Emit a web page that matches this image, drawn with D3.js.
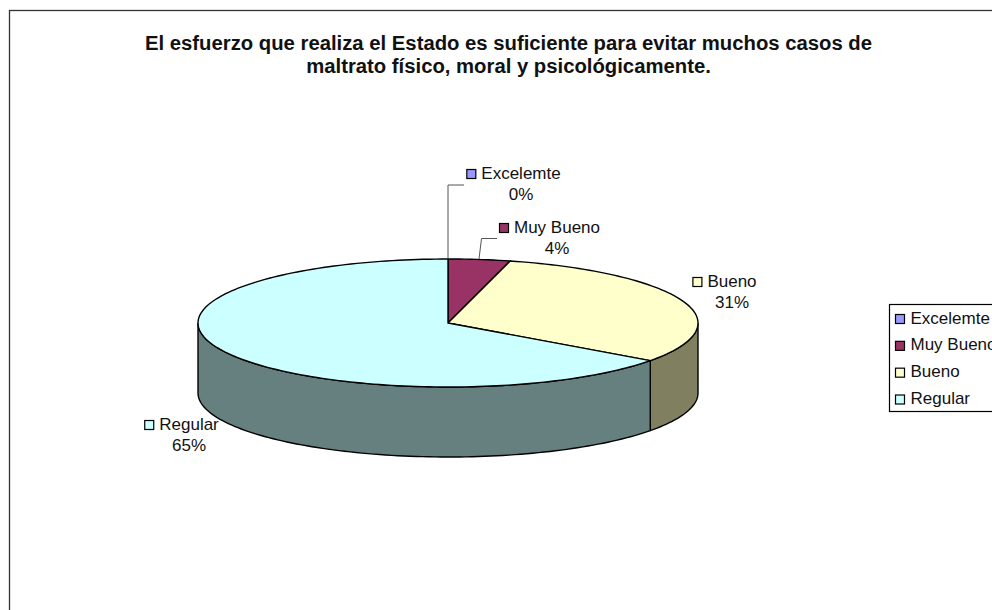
<!DOCTYPE html>
<html>
<head>
<meta charset="utf-8">
<script src="https://cdn.jsdelivr.net/npm/d3@7"></script>
<style>
  html, body { margin: 0; padding: 0; background: #fff; overflow: hidden; }
  text { font-family: "Liberation Sans", Arial, sans-serif; fill: #111; }
</style>
</head>
<body>
<div id="chart"></div>
<script>
// data
var categories = ["Excelemte", "Muy Bueno", "Bueno", "Regular"];
var values = [0, 4, 31, 65];
var titleLines = [
  "El esfuerzo que realiza el Estado es suficiente para evitar muchos casos de",
  "maltrato físico, moral y psicológicamente."
];

var topColors = ["#9999ff", "#993366", "#ffffcc", "#ccffff"];
var sideColors = ["#666699", "#662244", "#808060", "#668080"];

var svgWidth = 992;
var svgHeight = 610;

var svg = d3.select("#chart")
  .append("svg")
  .attr("width", svgWidth)
  .attr("height", svgHeight)
  .style("display", "block");

// chart frame, runs off the right and bottom of the window
svg.append("rect")
  .attr("x", 9.5)
  .attr("y", 10.5)
  .attr("width", svgWidth + 20)
  .attr("height", svgHeight + 20)
  .attr("fill", "#fff")
  .attr("stroke", "#333")
  .attr("stroke-width", 1.3);

svg.selectAll(".title")
  .data(titleLines)
  .enter()
  .append("text")
  .attr("class", "title")
  .attr("x", 508.5)
  .attr("y", (d, i) => 50 + i * 23)
  .attr("text-anchor", "middle")
  .attr("font-size", 20.3)
  .attr("font-weight", "bold")
  .text(d => d);

// pie ellipse
var cx = 448, cy = 323, rx = 250, ry = 64, depth = 70;

// unit circle -> ellipse on the page
var xScale = d3.scaleLinear().domain([-1, 1]).range([cx - rx, cx + rx]);
var yScale = d3.scaleLinear().domain([-1, 1]).range([cy + ry, cy - ry]);

var pie = d3.pie().sort(null).value(d => d);
var slices = pie(values);

var line = d3.line().x(d => d[0]).y(d => d[1]);

function rimPoints(a0, a1, dy) {
  var n = Math.max(2, Math.ceil(Math.abs(a1 - a0) * 40));
  return d3.range(n + 1).map(function(i) {
    var a = a0 + (a1 - a0) * i / n;
    return [xScale(Math.sin(a)), yScale(Math.cos(a)) + dy];
  });
}

var chartGroup = svg.append("g");

// side walls: only the front half of the rim is visible
slices.forEach(function(s, i) {
  var a0 = Math.max(s.startAngle, Math.PI / 2);
  var a1 = Math.min(s.endAngle, Math.PI * 1.5);
  if (a1 <= a0) return;
  var pts = rimPoints(a0, a1, 0).concat(rimPoints(a1, a0, depth));
  chartGroup.append("path")
    .attr("d", line(pts) + "Z")
    .attr("fill", sideColors[i])
    .attr("stroke", "#000")
    .attr("stroke-width", 1.4);
});

// top faces
slices.forEach(function(s, i) {
  if (s.endAngle === s.startAngle) return;
  var pts = [[cx, cy]].concat(rimPoints(s.startAngle, s.endAngle, 0));
  chartGroup.append("path")
    .attr("d", line(pts) + "Z")
    .attr("fill", topColors[i])
    .attr("stroke", "#000")
    .attr("stroke-width", 1.4);
});

// leader lines for the two small slices
var leaders = [
  [[xScale(Math.sin(slices[0].startAngle)), yScale(1)], [448, 185], [464, 185]],
  [[479, 259], [481.5, 238.5], [497, 238.5]]
];
svg.selectAll(".leader")
  .data(leaders)
  .enter()
  .append("path")
  .attr("class", "leader")
  .attr("d", d => line(d))
  .attr("fill", "none")
  .attr("stroke", "#555")
  .attr("stroke-width", 1);

// data labels: text centre and first baseline per category
var labelPos = [[521, 178.5], [557, 232.5], [732, 286.5], [189, 429.5]];
var labelFont = 17;

var labels = svg.selectAll(".label")
  .data(categories)
  .enter()
  .append("g")
  .attr("class", "label")
  .attr("transform", (d, i) => `translate(${labelPos[i][0]}, ${labelPos[i][1]})`);

labels.append("text")
  .attr("text-anchor", "middle")
  .attr("font-size", labelFont)
  .text(d => d);

labels.append("text")
  .attr("text-anchor", "middle")
  .attr("y", 21)
  .attr("font-size", labelFont)
  .text((d, i) => values[i] + "%");

labels.each(function(d, i) {
  var w = this.querySelector("text").getComputedTextLength();
  d3.select(this).append("rect")
    .attr("x", -w / 2 - 14.5)
    .attr("y", -9)
    .attr("width", 9)
    .attr("height", 9)
    .attr("fill", topColors[i])
    .attr("stroke", "#000")
    .attr("stroke-width", 1.2);
});

// legend, clipped by the window edge like the reference
var legendX = 889, legendY = 304;
var legend = svg.append("g");

legend.append("rect")
  .attr("x", legendX + 0.5)
  .attr("y", legendY + 0.5)
  .attr("width", 120)
  .attr("height", 107)
  .attr("fill", "#fff")
  .attr("stroke", "#000")
  .attr("stroke-width", 1.2);

var legendRow = d3.scalePoint()
  .domain(categories)
  .range([legendY + 15, legendY + 95.5]);

categories.forEach(function(c, i) {
  legend.append("rect")
    .attr("x", legendX + 6.5)
    .attr("y", legendRow(c) - 4.5)
    .attr("width", 9)
    .attr("height", 9)
    .attr("fill", topColors[i])
    .attr("stroke", "#000")
    .attr("stroke-width", 1.2);
  legend.append("text")
    .attr("x", legendX + 21.5)
    .attr("y", legendRow(c) + 4.5)
    .attr("font-size", labelFont)
    .text(c);
});
</script>
</body>
</html>
